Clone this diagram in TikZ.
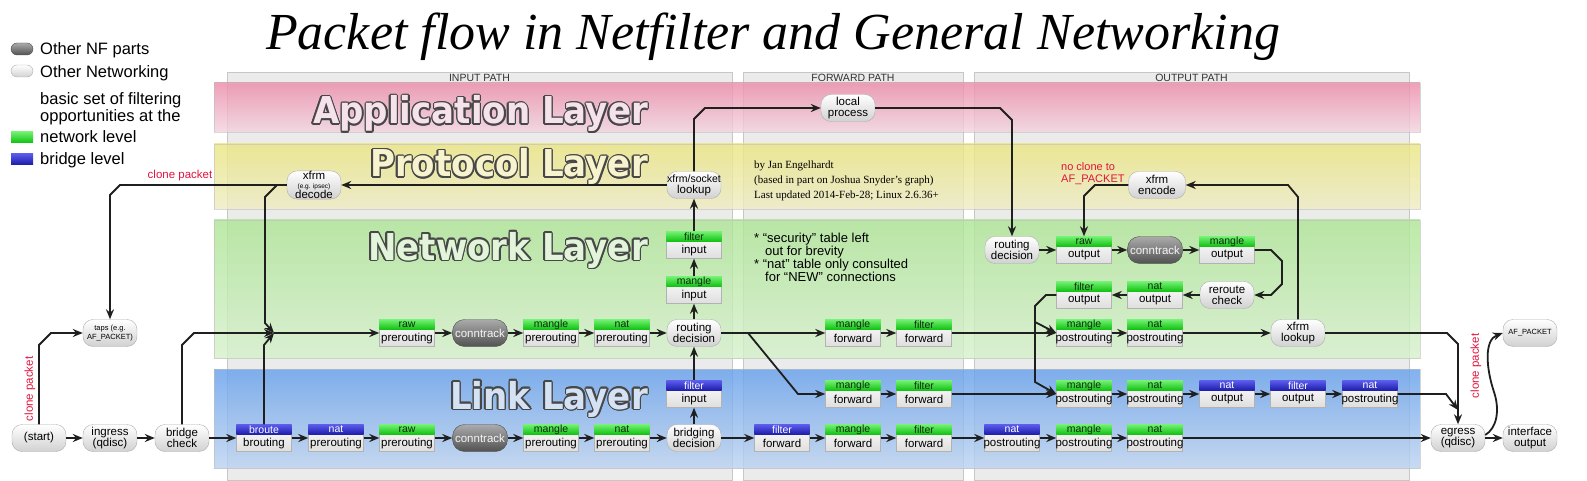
\documentclass[tikz,border=0pt]{standalone}
\usepackage{fontspec}
\usepackage{graphicx}
\setmainfont{Liberation Serif}
\setsansfont{Liberation Sans}
\newfontfamily\layerfont{DejaVu Sans}
\usetikzlibrary{arrows.meta}

\definecolor{Tgreen}{HTML}{74F274}
\definecolor{Bgreen}{HTML}{12C212}
\definecolor{Xgreen}{HTML}{0E2A0E}
\definecolor{Tblue}{HTML}{5C5CEE}
\definecolor{Bblue}{HTML}{1E1EAA}
\definecolor{Xblue}{HTML}{FFFFFF}
\definecolor{apptop}{HTML}{EC8CAA}
\definecolor{appbot}{HTML}{F2D4DF}
\definecolor{prottop}{HTML}{EBE682}
\definecolor{protbot}{HTML}{EEEBC4}
\definecolor{nettop}{HTML}{AEE596}
\definecolor{netbot}{HTML}{D6F0CC}
\definecolor{linktop}{HTML}{66A0EC}
\definecolor{linkbot}{HTML}{BCD3F0}
\definecolor{appfill}{HTML}{F6E2EA}
\definecolor{protfill}{HTML}{F7F3CE}
\definecolor{netfill}{HTML}{E2F4DA}
\definecolor{linkfill}{HTML}{D4E2F4}
\definecolor{cloneRed}{HTML}{E0143C}

\begin{document}
\begin{tikzpicture}[x=1pt, y=-1pt,
    every node/.style={font=\sffamily},
    pill/.style={draw=black!32, rounded corners=10pt, top color=white, bottom color=black!18,
        minimum width=54pt, minimum height=27pt, inner sep=0pt, align=center,
        font=\sffamily\fontsize{11.5}{11}\selectfont},
    smalltxt/.style={font=\sffamily\fontsize{7.5}{8.5}\selectfont},
    ct/.style={pill, draw=black!70, rounded corners=12pt, top color=black!33, bottom color=black!68, text=black!4, minimum width=55pt},
    tbl/.style={draw=black!30, top color=white, bottom color=black!13, minimum width=55pt, minimum height=27pt, inner sep=0pt},
    tname/.style={inner sep=0pt, font=\sffamily\fontsize{10.5}{10}\selectfont},
    chain/.style={inner sep=0pt, font=\sffamily\fontsize{11.5}{11}\selectfont},
    arr/.style={draw=black!88, line width=1.8pt, -{Stealth[length=10pt,width=8pt]}},
    redlab/.style={text=cloneRed, inner sep=0pt, font=\sffamily\fontsize{11.5}{12}\selectfont},
    colbox/.style={fill=black!8, draw=black!22, line width=0.8pt},
    colhead/.style={inner sep=0pt, text=black!80, font=\sffamily\fontsize{10.5}{10}\selectfont},
    laytitle/.style={inner sep=0pt, anchor=base east, font=\layerfont\bfseries\fontsize{37}{37}\selectfont},
    legtext/.style={inner sep=0pt, anchor=base west, align=left, font=\sffamily\fontsize{16.5}{18}\selectfont},
]
    \useasboundingbox (0,0) rectangle (1587,481);

    % 背景
    \foreach \nm/\xa/\xb/\lab in {in/227/732/INPUT PATH, fwd/743/963/FORWARD PATH, out/974/1409/OUTPUT PATH} {
        \draw[colbox] (\xa,72) rectangle (\xb,480);
        \node[colhead] (head\nm) at ({(\xa+\xb)/2},78) {\lab};
    }
    \foreach \ya/\yb/\ct/\cb in {83/132/apptop/appbot, 144/209/prottop/protbot, 220/358/nettop/netbot, 369/468/linktop/linkbot}
        \shade[top color=\ct, bottom color=\cb, draw=black!25, fill opacity=0.82, draw opacity=0.6] (214,\ya) rectangle (1420,\yb);

    % 层的名字
    \foreach \nm/\yy/\fc/\txt in {app/124/appfill/Application Layer, prot/177/protfill/Protocol Layer,
                                  net/260/netfill/Network Layer, link/409/linkfill/Link Layer} {
        \foreach \a in {0,30,...,330}
            \node[laytitle, text=black!72, shift={(\a:1.5)}] (lay\nm o\a) at (648,\yy) {\scalebox{0.92}[1]{\txt}};
        \node[laytitle, text=\fc] (lay\nm) at (648,\yy) {\scalebox{0.92}[1]{\txt}};
    }

    % 标题
    \node[inner sep=0pt, anchor=base, font=\rmfamily\itshape\fontsize{52}{52}\selectfont] (title) at (773,50)
        {Packet flow in Netfilter and General Networking};

    % 图例
    \node[ct, minimum width=22pt, minimum height=12pt, rounded corners=6pt] (lgnf) at (22,49) {};
    \node[pill, minimum width=22pt, minimum height=12pt, rounded corners=6pt] (lgnet) at (22,71) {};
    \node[top color=Tgreen, bottom color=Bgreen, minimum width=22pt, minimum height=11pt, inner sep=0pt] (lggreen) at (22,137) {};
    \node[top color=Tblue, bottom color=Bblue, minimum width=22pt, minimum height=11pt, inner sep=0pt] (lgblue) at (22,159) {};
    \node[legtext] (lgt1) at (40,55) {Other NF parts};
    \node[legtext] (lgt2) at (40,78) {Other Networking};
    \node[legtext] (lgt3) at (40,105) {basic set of filtering};
    \node[legtext] (lgt4) at (40,122) {opportunities at the};
    \node[legtext] (lgt5) at (40,143) {network level};
    \node[legtext] (lgt6) at (40,165) {bridge level};

    % 说明
    \node[inner sep=0pt, anchor=north west, align=left, font=\rmfamily\fontsize{11}{15}\selectfont] (credit) at (754,161)
        {by Jan Engelhardt\\(based in part on Joshua Snyder's graph)\\Last updated 2014-Feb-28; Linux 2.6.36+};
    \node[inner sep=0pt, anchor=north west, align=left, font=\sffamily\fontsize{13}{13}\selectfont] (notes) at (754,233)
        {* “security” table left\\\hspace*{11pt}out for brevity\\* “nat” table only consulted\\\hspace*{11pt}for “NEW” connections};
    \node[redlab, align=left, anchor=north west, font=\sffamily\fontsize{11}{12}\selectfont] (noclone) at (1061,162) {no clone to\\AF\_PACKET};
    \node[redlab] (clonea) at (180,176) {clone packet};
    \node[redlab, rotate=90] (cloneb) at (30,389) {clone packet};
    \node[redlab, rotate=90] (clonec) at (1476,366) {clone packet};

    % 表和链
    \foreach \nm/\x/\y/\c/\tb/\ch in {
        brouting/264/438/blue/broute/brouting, bnatpre/336/438/blue/nat/prerouting,
        lrawpre/407/438/green/raw/prerouting, lmanglepre/551/438/green/mangle/prerouting,
        lnatpre/622/438/green/nat/prerouting, bfilterfwd/782/438/blue/filter/forward,
        lmanglefwd/853/438/green/mangle/forward, lfilterfwd/924/438/green/filter/forward,
        bnatpost/1012/438/blue/nat/postrouting, lmanglepost/1084/438/green/mangle/postrouting,
        lnatpost/1155/438/green/nat/postrouting,
        bfilterin/694/394/blue/filter/input,
        mmanglefwd/853/394/green/mangle/forward, mfilterfwd/924/394/green/filter/forward,
        mmanglepost/1084/394/green/mangle/postrouting, mnatpost/1155/394/green/nat/postrouting,
        bnatout/1227/394/blue/nat/output, bfilterout/1298/394/blue/filter/output,
        bnatpost2/1370/394/blue/nat/postrouting,
        nrawpre/407/333/green/raw/prerouting, nmanglepre/551/333/green/mangle/prerouting,
        nnatpre/622/333/green/nat/prerouting, nmanglefwd/853/333/green/mangle/forward,
        nfilterfwd/924/333/green/filter/forward, nmanglepost/1084/333/green/mangle/postrouting,
        nnatpost/1155/333/green/nat/postrouting,
        nmangleinp/694/290/green/mangle/input, nfilterinp/694/245/green/filter/input,
        rawout/1084/250/green/raw/output, mangleout/1227/250/green/mangle/output,
        filterout/1084/295/green/filter/output, natout/1155/295/green/nat/output} {
        \node[tbl] (\nm) at (\x,\y) {};
        \shade[top color=T\c, bottom color=B\c] (\nm.north west) rectangle ([yshift=-10pt]\nm.north east);
        \node[tname, text=X\c] (\nm-t) at ([yshift=-5pt]\nm.north) {\tb};
        \node[chain] (\nm-c) at ([yshift=8.5pt]\nm.south) {\ch};
    }

    % 其他部分
    \node[pill] (start) at (39,438) {(start)};
    \node[pill] (ingress) at (110,438) {ingress\\(qdisc)};
    \node[pill] (brcheck) at (182,438) {bridge\\check};
    \node[pill, smalltxt] (taps) at (110,333) {taps (e.g.\\AF\_PACKET)};
    \node[ct] (lct) at (480,438) {conntrack};
    \node[ct] (nct) at (480,333) {conntrack};
    \node[ct] (oct) at (1155,250) {conntrack};
    \node[pill] (bridging) at (694,438) {bridging\\decision};
    \node[pill] (nrouting) at (694,333) {routing\\decision};
    \node[pill, font=\sffamily\fontsize{11.5}{9}\selectfont] (xdecode) at (314,185)
        {xfrm\\{\fontsize{6.5}{6}\selectfont(e.g. ipsec)}\\decode};
    \node[pill] (lookup) at (694,185) {{\fontsize{10.5}{10}\selectfont xfrm/socket}\\lookup};
    \node[pill] (local) at (848,108) {local\\process};
    \node[pill] (orouting) at (1012,250) {routing\\decision};
    \node[pill] (reroute) at (1227,295) {reroute\\check};
    \node[pill, minimum width=57pt] (xencode) at (1157,185) {xfrm\\encode};
    \node[pill] (xlookup) at (1298,333) {xfrm\\lookup};
    \node[pill] (egress) at (1458,438) {egress\\(qdisc)};
    \node[pill] (ifout) at (1530,438) {interface\\output};
    \node[pill, smalltxt] (afpacket) at (1530,333) {AF\_PACKET};

    % 连线
    \coordinate (jn) at (274,333);
    \coordinate (fork) at (748,333);
    \coordinate (brk) at (1035,322);
    \coordinate (egj) at (1458,410);
    \foreach \a/\b in {start/ingress, ingress/brcheck, brcheck/brouting, brouting/bnatpre,
        bnatpre/lrawpre, lrawpre/lct, lct/lmanglepre, lmanglepre/lnatpre, lnatpre/bridging,
        bridging/bfilterfwd, bfilterfwd/lmanglefwd, lmanglefwd/lfilterfwd, lfilterfwd/bnatpost,
        bnatpost/lmanglepost, lmanglepost/lnatpost, lnatpost/egress, egress/ifout,
        bridging/bfilterin, bfilterin/nrouting, jn/nrawpre, nrawpre/nct, nct/nmanglepre,
        nmanglepre/nnatpre, nnatpre/nrouting, nrouting/nmangleinp, nmangleinp/nfilterinp,
        nfilterinp/lookup, nrouting/nmanglefwd, nmanglefwd/nfilterfwd, nfilterfwd/nmanglepost,
        nmanglepost/nnatpost, nnatpost/xlookup, lookup/xdecode, orouting/rawout, rawout/oct,
        oct/mangleout, reroute/natout, natout/filterout, mmanglefwd/mfilterfwd,
        mfilterfwd/mmanglepost, mmanglepost/mnatpost, mnatpost/bnatout, bnatout/bfilterout,
        bfilterout/bnatpost2}
        \draw[arr] (\a) -- (\b);

    \draw[arr] (xdecode.west) -- (120,185) -- (110,195) -- (taps.north);
    \draw[arr] (start.north) -- (39,345) -- (51,333) -- (taps.west);
    \draw[arr] (xdecode.west) -- (277,185) -- (265,197) -- (265,323) -- (jn);
    \draw[arr] (brcheck.north) -- (182,345) -- (194,333) -- (jn);
    \draw[arr] (brouting.north) -- (264,345) -- (jn);
    \draw[arr] (lookup.north) -- (694,119) -- (705,108) -- (local.west);
    \draw[arr] (local.east) -- (1000,108) -- (1012,120) -- (orouting.north);
    \draw[arr] (mangleout.east) -- (1271,250) -- (1282,261) -- (1282,284) -- (1271,295) -- (reroute.east);
    \draw[arr] (filterout.west) -- (1046,295) -- (1035,306) -- (1035,382) -- (mmanglepost.west);
    \draw[arr] (brk) -- (nmanglepost.west);
    \draw[arr] (fork) -- (798,394) -- (mmanglefwd.west);
    \draw[arr] (xlookup.east) -- (1447,333) -- (1458,344) -- (egress.north);
    \draw[arr] (bnatpost2.east) -- (1446,394) -- (egj);
    \draw[arr] (xlookup.north) -- (1298,197) -- (1288,185) -- (xencode.east);
    \draw[arr] (xencode.west) -- (1095,185) -- (1084,196) -- (rawout.north);
    \draw[arr] ([yshift=3pt]egress.east) .. controls (1497,428) and (1500,410) .. (1494,392)
        .. controls (1486,368) and (1484,340) .. (afpacket.west);

\end{tikzpicture}
\end{document}
